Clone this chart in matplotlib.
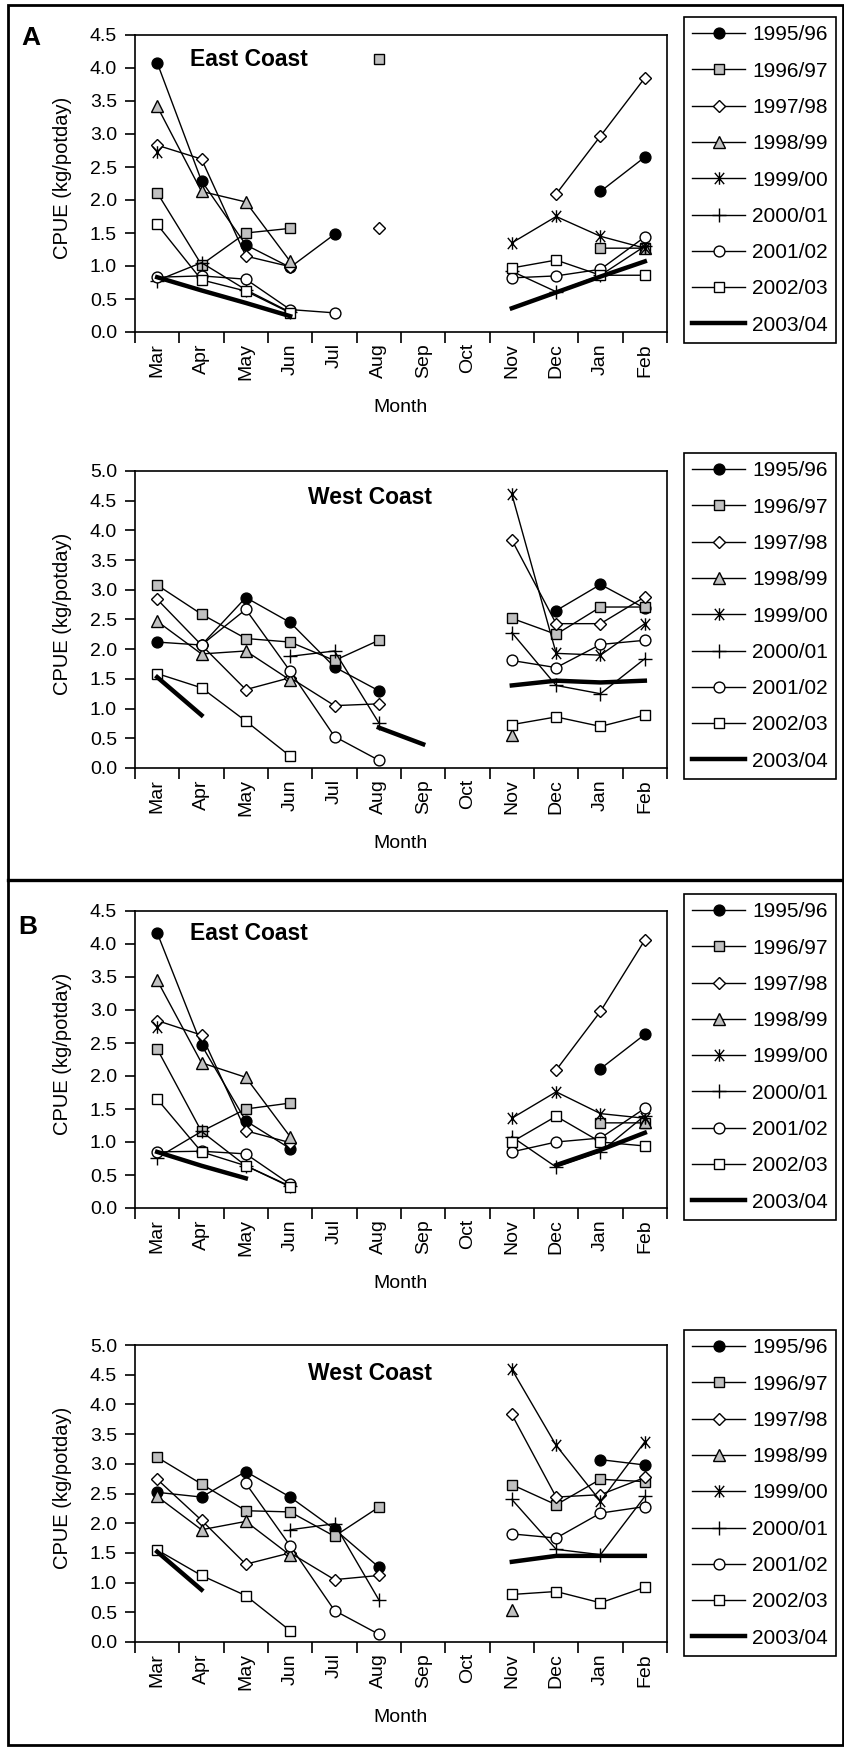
import numpy as np
import matplotlib
matplotlib.use('Agg')
import matplotlib.pyplot as plt
from matplotlib.path import Path
from matplotlib.lines import Line2D
from matplotlib.patches import Rectangle

plt.rcParams['font.family'] = ['Liberation Sans', 'DejaVu Sans']

N = np.nan
months = ['Mar', 'Apr', 'May', 'Jun', 'Jul', 'Aug', 'Sep', 'Oct', 'Nov', 'Dec', 'Jan', 'Feb']
seasons = ['1995/96', '1996/97', '1997/98', '1998/99', '1999/00',
           '2000/01', '2001/02', '2002/03', '2003/04']

# ---- A : East Coast ----
ae_9596 = [4.08, 2.29, 1.32, 0.98, 1.48, N, N, N, N, N, 2.13, 2.65]
ae_9697 = [2.11, 1.02, 1.50, 1.57, N, 4.14, N, N, N, N, 1.27, 1.27]
ae_9798 = [2.83, 2.62, 1.15, 0.99, N, 1.57, N, N, N, 2.09, 2.97, 3.85]
ae_9899 = [3.42, 2.13, 1.97, 1.07, N, N, N, N, N, N, N, 1.27]
ae_9900 = [2.72, N, N, N, N, N, N, N, 1.35, 1.75, 1.45, 1.27]
ae_0001 = [0.78, 1.05, 0.64, 0.30, N, N, N, N, 0.92, 0.61, 0.86, 1.30]
ae_0102 = [0.83, 0.85, 0.80, 0.34, 0.29, N, N, N, 0.82, 0.85, 0.95, 1.44]
ae_0203 = [1.63, 0.79, 0.62, 0.29, N, N, N, N, 0.97, 1.09, 0.86, 0.86]
ae_0304 = [0.83, 0.63, 0.44, 0.24, N, N, N, N, 0.36, 0.60, 0.84, 1.07]

# ---- A : West Coast ----
aw_9596 = [2.12, 2.07, 2.87, 2.45, 1.70, 1.30, N, N, N, 2.65, 3.09, 2.69]
aw_9697 = [3.08, 2.59, 2.18, 2.12, 1.81, 2.15, N, N, 2.52, 2.25, 2.71, 2.71]
aw_9798 = [2.84, 2.07, 1.32, 1.52, 1.05, 1.08, N, N, 3.84, 2.43, 2.43, 2.88]
aw_9899 = [2.47, 1.92, 1.97, 1.48, N, N, N, N, 0.55, N, N, N]
aw_9900 = [N, N, N, N, N, N, N, N, 4.61, 1.93, 1.90, 2.43]
aw_0001 = [N, N, N, 1.88, 1.97, 0.76, N, N, 2.28, 1.39, 1.25, 1.84]
aw_0102 = [N, 2.07, 2.67, 1.63, 0.53, 0.13, N, N, 1.81, 1.69, 2.08, 2.15]
aw_0203 = [1.59, 1.35, 0.79, 0.20, N, N, N, N, 0.73, 0.86, 0.70, 0.89]
aw_0304 = [1.53, 0.89, N, N, N, 0.68, 0.40, N, 1.39, 1.47, 1.44, 1.47]

# ---- B : East Coast ----
be_9596 = [4.17, 2.47, 1.32, 0.90, N, N, N, N, N, N, 2.11, 2.63]
be_9697 = [2.41, 1.16, 1.50, 1.59, N, N, N, N, N, N, 1.29, 1.29]
be_9798 = [2.84, 2.62, 1.17, 0.99, N, N, N, N, N, 2.09, 2.98, 4.06]
be_9899 = [3.45, 2.20, 1.98, 1.08, N, N, N, N, N, N, N, 1.31]
be_9900 = [2.74, N, N, N, N, N, N, N, 1.36, 1.76, 1.43, 1.36]
be_0001 = [0.76, 1.16, 0.64, 0.33, N, N, N, N, 1.08, 0.62, 0.85, 1.40]
be_0102 = [0.85, 0.86, 0.82, 0.36, N, N, N, N, 0.85, 1.00, 1.06, 1.51]
be_0203 = [1.65, 0.85, 0.64, 0.32, N, N, N, N, 1.00, 1.39, 1.00, 0.94]
be_0304 = [0.85, 0.64, 0.45, N, N, N, N, N, N, 0.65, 0.88, 1.14]

# ---- B : West Coast ----
bw_9596 = [2.52, 2.44, 2.87, 2.44, 1.90, 1.26, N, N, N, N, 3.07, 2.98]
bw_9697 = [3.11, 2.66, 2.21, 2.19, 1.78, 2.27, N, N, 2.65, 2.31, 2.74, 2.70]
bw_9798 = [2.74, 2.05, 1.31, 1.50, 1.05, 1.12, N, N, 3.83, 2.44, 2.48, 2.77]
bw_9899 = [2.45, 1.89, 2.03, 1.46, N, N, N, N, 0.54, N, N, N]
bw_9900 = [N, N, N, N, N, N, N, N, 4.59, 3.31, 2.37, 3.37]
bw_0001 = [N, N, N, 1.89, 1.99, 0.71, N, N, 2.40, 1.56, 1.47, 2.45]
bw_0102 = [N, N, 2.67, 1.62, 0.53, 0.13, N, N, 1.82, 1.75, 2.17, 2.28]
bw_0203 = [1.55, 1.12, 0.78, 0.19, N, N, N, N, 0.80, 0.85, 0.66, 0.92]
bw_0304 = [1.52, 0.88, N, N, N, N, N, N, 1.35, 1.45, 1.45, 1.45]

a_east = [ae_9596, ae_9697, ae_9798, ae_9899, ae_9900, ae_0001, ae_0102, ae_0203, ae_0304]
a_west = [aw_9596, aw_9697, aw_9798, aw_9899, aw_9900, aw_0001, aw_0102, aw_0203, aw_0304]
b_east = [be_9596, be_9697, be_9798, be_9899, be_9900, be_0001, be_0102, be_0203, be_0304]
b_west = [bw_9596, bw_9697, bw_9798, bw_9899, bw_9900, bw_0001, bw_0102, bw_0203, bw_0304]

W, H = 845, 1748
fig = plt.figure(figsize=(W / 100, H / 100), dpi=100)


def fx(px):
    return px / W


def fy(py):
    return 1 - py / H


star = Path([(-0.75, -0.9), (0.75, 0.9), (-0.75, 0.9), (0.75, -0.9), (0, -1), (0, 1)],
            [Path.MOVETO, Path.LINETO, Path.MOVETO, Path.LINETO, Path.MOVETO, Path.LINETO])

grey = '#c0c0c0'
styles = [
    dict(marker='o', mfc='black', ms=7.8, lw=1.0),
    dict(marker='s', mfc=grey, ms=7.8, lw=1.0),
    dict(marker='D', mfc='white', ms=5.8, lw=1.0),
    dict(marker='^', mfc=grey, ms=8.5, lw=1.0),
    dict(marker=star, mfc='none', ms=9, lw=1.0),
    dict(marker='+', mfc='none', ms=9.5, lw=1.0),
    dict(marker='o', mfc='white', ms=7.8, lw=1.0),
    dict(marker='s', mfc='white', ms=7.8, lw=1.0),
    dict(marker='None', mfc='none', ms=0, lw=3.2),
]

panels = [
    dict(data=a_east, top=35, ymax=4.5, title='East Coast', tx=190, ty=59, leg=17),
    dict(data=a_west, top=471, ymax=5.0, title='West Coast', tx=308, ty=498, leg=453),
    dict(data=b_east, top=911, ymax=4.5, title='East Coast', tx=190, ty=933, leg=894),
    dict(data=b_west, top=1345, ymax=5.0, title='West Coast', tx=308, ty=1373, leg=1330),
]

AX_L, AX_R, AX_H = 135, 667, 297
x = np.arange(len(months))

for p in panels:
    top = p['top']
    ax = fig.add_axes([fx(AX_L), fy(top + AX_H), (AX_R - AX_L) / W, AX_H / H])
    for vals, st, lab in zip(p['data'], styles, seasons):
        ax.plot(x, vals, color='black', lw=st['lw'], marker=st['marker'],
                markersize=st['ms'], markerfacecolor=st['mfc'],
                markeredgecolor='black', markeredgewidth=1.0, label=lab,
                clip_on=False)
    ax.set_xlim(-0.5, len(months) - 0.5)
    ax.set_ylim(0, p['ymax'])
    ax.set_yticks(np.arange(0, p['ymax'] + 0.01, 0.5))
    ax.yaxis.set_major_formatter('{x:.1f}')
    ax.set_xticks(np.arange(-0.5, len(months), 1.0))
    ax.set_xticks(x, minor=True)
    ax.set_xticklabels(months, minor=True, rotation=90)
    ax.tick_params(axis='x', which='major', length=8, width=1.2, direction='out',
                   labelbottom=False)
    ax.tick_params(axis='x', which='minor', length=0, pad=8, labelsize=14)
    ax.tick_params(axis='y', length=7, width=1.2, pad=6, labelsize=14)
    for s in ax.spines.values():
        s.set_linewidth(1.2)

    fig.text(fx(63), fy(top + AX_H / 2 - 6), 'CPUE (kg/potday)', rotation=90,
             ha='center', va='center', fontsize=14.5)
    fig.text(fx(401), fy(top + AX_H + 76), 'Month', ha='center', va='center',
             fontsize=14)
    fig.text(fx(p['tx']), fy(p['ty']), p['title'], ha='left', va='center',
             fontsize=16.5, fontweight='bold')

    leg = ax.legend(loc='upper left', bbox_to_anchor=(fx(684), fy(p['leg'])),
                    bbox_transform=fig.transFigure, borderaxespad=0,
                    fontsize=15, labelspacing=0.83, handlelength=2.55,
                    handletextpad=0.32, borderpad=0.4, numpoints=1,
                    fancybox=False, framealpha=1, edgecolor='black')
    leg.get_frame().set_linewidth(1.2)

fig.text(fx(31), fy(38), 'A', ha='center', va='center', fontsize=19, fontweight='bold')
fig.text(fx(28), fy(927), 'B', ha='center', va='center', fontsize=19, fontweight='bold')

fig.add_artist(Rectangle((fx(8), fy(1745)), fx(843) - fx(8), fy(5) - fy(1745),
                         fill=False, lw=2, edgecolor='black', transform=fig.transFigure))
fig.add_artist(Line2D([fx(8), fx(843)], [fy(880), fy(880)], lw=2.4, color='black',
                      transform=fig.transFigure))

fig.savefig('out.png', dpi=100)
